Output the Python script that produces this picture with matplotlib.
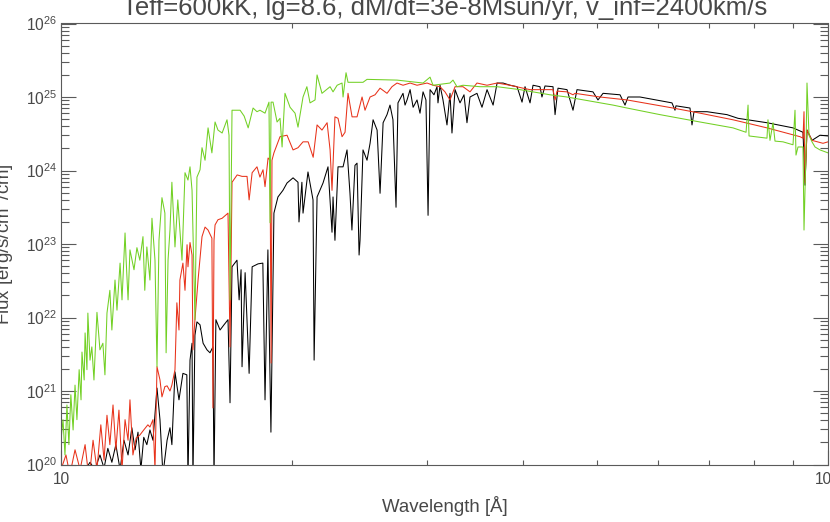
import numpy as np
import matplotlib
matplotlib.use('Agg')
import matplotlib.pyplot as plt
from matplotlib.ticker import FixedLocator, FixedFormatter, LogLocator, NullFormatter

plt.rcParams['font.family'] = ['Liberation Sans', 'DejaVu Sans']

title = 'Teff=600kK, lg=8.6, dM/dt=3e-8Msun/yr, v_inf=2400km/s'
xlabel = 'Wavelength [Å]'
ylabel = 'Flux [erg/s/cm$^2$/cm]'

# wavelength [A] and log10 flux
wl_black = [10.00, 10.27, 10.59, 10.91, 11.07, 11.24, 11.38, 11.51, 11.65, 11.79,
            11.94, 12.08, 12.23, 12.37, 12.49, 12.60, 12.71, 12.82, 12.94, 13.06,
            13.18, 13.34, 13.46, 13.58, 13.75, 13.87, 13.95, 14.08, 14.25, 14.42,
            14.59, 14.64, 14.73, 14.82, 14.86, 14.95, 15.04, 15.18, 15.32, 15.50,
            15.64, 15.78, 15.83, 15.92, 16.12, 16.31, 16.51, 16.61, 16.71, 16.96,
            17.07, 17.17, 17.22, 17.38, 17.59, 17.75, 18.07, 18.33, 18.45, 18.61,
            18.78, 18.95, 19.18, 19.47, 19.71, 20.07, 20.37, 20.43, 20.61, 20.68,
            20.99, 21.31, 21.38, 21.57, 21.96, 22.29, 22.56, 22.63, 22.76, 22.97,
            23.32, 23.60, 23.81, 23.95, 24.17, 24.32, 24.47, 24.54, 24.76, 25.06,
            25.29, 25.52, 25.83, 26.06, 26.30, 26.61, 26.85, 27.09, 27.34, 27.50,
            27.92, 28.09, 28.26, 28.52, 28.78, 29.12, 29.38, 29.65, 29.91, 30.10,
            30.28, 30.64, 30.92, 31.01, 31.20, 31.48, 31.86, 32.15, 32.34, 32.64,
            33.13, 33.53, 33.83, 34.14, 34.86, 35.39, 35.93, 36.59, 37.03, 37.70,
            38.50, 39.32, 39.91, 40.27, 40.88, 41.25, 42.12, 42.37, 42.76, 43.80,
            44.07, 44.46, 45.68, 46.51, 47.07, 49.38, 50.13, 50.90, 53.56, 54.37,
            54.86, 56.87, 62.60, 63.17, 63.36, 66.08, 66.48, 66.88, 69.54, 73.84,
            76.33, 83.26, 90.03, 92.77, 93.33, 93.89, 95.31, 97.63, 100.0]
logf_black = [19.86, 19.93, 19.82, 20.03, 19.93, 20.13, 19.95, 20.22, 20.03, 20.27,
              19.93, 20.33, 20.13, 20.50, 20.20, 20.44, 19.93, 20.37, 20.27, 20.47,
              20.33, 21.04, 20.61, 19.86, 20.33, 20.50, 20.27, 21.26, 20.88, 21.24,
              21.22, 19.79, 21.42, 21.65, 19.79, 21.76, 21.94, 21.90, 21.65, 21.56,
              21.52, 21.60, 19.79, 21.97, 21.83, 21.90, 21.97, 20.84, 22.69, 22.78,
              22.24, 22.65, 21.33, 22.61, 21.24, 22.69, 22.73, 22.74, 20.88, 22.92,
              20.44, 23.42, 23.64, 23.73, 23.83, 23.90, 23.84, 23.30, 23.84, 23.42,
              23.98, 23.60, 21.42, 23.64, 23.83, 24.05, 23.16, 23.64, 23.05, 24.05,
              24.05, 24.28, 23.69, 23.19, 24.07, 24.10, 22.85, 23.05, 24.28, 24.14,
              24.37, 24.69, 24.55, 23.69, 24.65, 24.76, 24.89, 24.69, 23.50, 24.92,
              25.05, 24.89, 24.96, 25.10, 24.86, 24.96, 24.78, 25.07, 24.96, 23.39,
              25.10, 25.03, 25.14, 24.92, 25.16, 24.96, 24.62, 25.05, 24.51, 25.10,
              24.92, 25.03, 24.65, 25.00, 25.05, 24.86, 25.10, 24.89, 25.19, 25.19,
              25.16, 25.14, 24.93, 25.14, 24.92, 25.16, 25.14, 25.00, 25.15, 25.14,
              24.76, 25.12, 25.10, 24.82, 25.10, 25.07, 24.96, 25.05, 25.03, 24.89,
              25.00, 25.00, 24.92, 24.82, 24.88, 24.85, 24.62, 24.80, 24.80, 24.76,
              24.71, 24.65, 24.58, 24.52, 23.80, 24.55, 24.41, 24.48, 24.47]

wl_red = [10.00, 10.15, 10.27, 10.43, 10.59, 10.75, 10.88, 11.01, 11.14, 11.27,
          11.38, 11.48, 11.58, 11.69, 11.79, 11.90, 12.01, 12.12, 12.23, 12.30,
          12.41, 12.53, 12.67, 12.82, 12.98, 13.06, 13.18, 13.26, 13.34, 13.46,
          13.54, 13.66, 13.75, 13.87, 13.95, 14.08, 14.16, 14.25, 14.29, 14.42,
          14.51, 14.60, 14.64, 14.73, 14.82, 14.86, 14.95, 15.09, 15.27, 15.41,
          15.55, 15.73, 15.78, 15.83, 15.88, 16.02, 16.22, 16.51, 16.61, 16.71,
          16.97, 17.22, 17.48, 17.59, 17.75, 18.01, 18.17, 18.34, 18.45, 18.62,
          18.73, 18.79, 18.84, 18.95, 19.30, 19.71, 20.07, 20.37, 20.68, 21.00,
          21.32, 21.57, 21.89, 22.23, 22.43, 22.56, 22.76, 22.97, 23.25, 23.46,
          23.67, 23.96, 24.32, 24.69, 24.91, 25.29, 25.67, 26.06, 26.61, 27.01,
          27.42, 27.92, 28.52, 29.12, 30.01, 30.55, 31.20, 31.67, 32.15, 32.64,
          33.43, 34.14, 34.86, 35.93, 37.03, 38.50, 40.03, 40.88, 43.80, 44.07,
          44.33, 45.68, 46.51, 46.79, 50.44, 54.70, 62.79, 68.10, 75.18, 83.26,
          91.94, 92.77, 93.05, 93.33, 93.89, 95.31, 98.51, 100.0]
logf_red = [19.93, 20.13, 19.86, 20.20, 19.93, 20.27, 19.79, 20.33, 19.93, 20.54,
            20.06, 20.67, 20.27, 20.81, 20.20, 20.74, 19.93, 20.61, 20.33, 20.88,
            20.13, 20.36, 20.40, 20.47, 20.54, 20.51, 20.61, 19.93, 21.33, 21.15,
            20.92, 21.06, 21.07, 21.00, 21.08, 21.29, 22.20, 21.83, 22.51, 22.74,
            22.37, 22.99, 22.69, 23.02, 22.85, 21.56, 21.97, 22.51, 23.10, 23.23,
            23.19, 23.08, 20.77, 23.05, 23.26, 23.33, 23.35, 23.42, 21.60, 23.84,
            23.94, 23.92, 23.92, 23.60, 23.97, 24.05, 23.91, 24.01, 23.78, 24.17,
            24.14, 21.38, 24.14, 24.24, 24.46, 24.48, 24.28, 24.31, 24.39, 24.39,
            24.18, 24.62, 24.55, 24.65, 24.28, 23.73, 24.73, 24.71, 24.46, 24.52,
            25.05, 24.73, 24.73, 25.00, 24.82, 25.00, 25.03, 25.12, 25.05, 25.14,
            25.19, 25.16, 25.19, 25.16, 25.19, 25.16, 25.14, 25.07, 24.96, 25.14,
            25.14, 25.07, 25.19, 25.16, 25.19, 25.16, 25.12, 25.10, 25.10, 24.96,
            25.08, 25.07, 25.03, 25.05, 25.00, 24.96, 24.85, 24.78, 24.69, 24.58,
            24.46, 24.44, 24.80, 23.83, 24.55, 24.41, 24.37, 24.39]

wl_green = [10.00, 10.06, 10.12, 10.18, 10.24, 10.30, 10.37, 10.43, 10.49, 10.56,
            10.62, 10.65, 10.72, 10.75, 10.81, 10.84, 10.91, 10.97, 11.04, 11.14,
            11.24, 11.34, 11.41, 11.48, 11.58, 11.65, 11.76, 11.83, 11.94, 12.01,
            12.12, 12.16, 12.23, 12.30, 12.45, 12.56, 12.67, 12.79, 12.86, 12.94,
            13.06, 13.14, 13.26, 13.34, 13.42, 13.54, 13.66, 13.71, 13.79, 13.87,
            13.95, 14.08, 14.20, 14.29, 14.38, 14.51, 14.64, 14.73, 14.82, 14.95,
            15.04, 15.18, 15.27, 15.41, 15.55, 15.73, 15.88, 16.02, 16.22, 16.46,
            16.56, 16.61, 16.71, 16.91, 17.12, 17.33, 17.54, 17.80, 18.01, 18.17,
            18.45, 18.67, 18.73, 18.79, 18.90, 19.13, 19.30, 19.42, 19.59, 19.89,
            20.19, 20.37, 20.68, 20.92, 21.12, 21.44, 21.57, 21.89, 22.43, 22.63,
            22.91, 23.25, 23.32, 23.53, 23.67, 24.76, 25.06, 27.42, 29.12, 29.65,
            30.28, 30.55, 32.15, 32.44, 32.83, 33.43, 35.18, 37.03, 39.67, 43.41,
            45.68, 50.44, 52.44, 54.70, 60.39, 64.13, 68.10, 75.18, 78.19, 78.66,
            78.89, 83.26, 83.51, 84.02, 84.78, 85.29, 87.36, 90.03, 90.57, 90.84,
            91.39, 92.77, 93.05, 93.61, 93.89, 94.46, 95.31, 96.18, 97.63, 100.0]
logf_green = [20.33, 20.61, 20.13, 20.81, 20.27, 20.95, 20.47, 21.08, 20.61, 21.29,
              20.88, 21.53, 21.15, 21.79, 21.29, 22.06, 21.42, 21.60, 21.15, 22.07,
              21.56, 21.65, 21.22, 22.06, 22.37, 21.83, 22.51, 22.10, 22.74, 22.24,
              23.15, 22.78, 22.24, 22.92, 22.65, 22.95, 22.78, 23.10, 22.37, 22.96,
              22.51, 23.35, 22.78, 21.33, 23.05, 23.63, 23.42, 21.52, 22.78, 23.19,
              23.84, 22.96, 23.60, 23.19, 22.78, 23.97, 23.87, 24.05, 23.73, 21.97,
              23.91, 24.01, 24.31, 24.14, 24.58, 24.24, 24.66, 24.55, 24.51, 24.69,
              24.48, 22.24, 24.82, 24.82, 24.82, 24.74, 24.58, 24.85, 24.80, 24.82,
              24.78, 24.93, 23.29, 24.93, 24.93, 24.66, 24.71, 24.32, 25.05, 24.86,
              24.78, 24.59, 25.00, 25.14, 24.92, 24.96, 25.30, 25.05, 25.14, 25.07,
              25.16, 25.19, 25.00, 25.33, 25.20, 25.20, 25.24, 25.23, 25.20, 25.19,
              25.27, 25.16, 25.19, 25.23, 25.14, 25.16, 25.14, 25.14, 25.10, 25.03,
              25.00, 24.92, 24.89, 24.85, 24.76, 24.71, 24.66, 24.58, 24.52, 24.89,
              24.47, 24.44, 24.69, 24.41, 24.65, 24.40, 24.39, 24.35, 24.82, 24.21,
              24.32, 24.32, 23.19, 24.28, 25.19, 24.48, 24.39, 24.32, 24.28, 24.24]

x_minor = [20, 30, 40, 50, 60, 70, 80, 90]

fig = plt.figure(figsize=(8.3, 5.22), dpi=100)
ax = fig.add_axes([61 / 830, 1 - 464.5 / 522, 767 / 830, 441 / 522])
ax.set_xscale('log')
ax.set_yscale('log')

ax.plot(wl_black, 10 ** np.array(logf_black), color='black', lw=0.75)
ax.plot(wl_red, 10 ** np.array(logf_red), color='#e8321a', lw=0.75)
ax.plot(wl_green, 10 ** np.array(logf_green), color='#72d024', lw=0.75)

ax.set_xlim(10, 100)
ax.set_ylim(1e20, 1e26)

ax.xaxis.set_major_locator(FixedLocator([10, 100]))
ax.xaxis.set_major_formatter(FixedFormatter(['10', '100']))
ax.xaxis.set_minor_locator(FixedLocator(x_minor))
ax.xaxis.set_minor_formatter(NullFormatter())
ax.yaxis.set_major_locator(LogLocator(base=10, numticks=10))
ax.yaxis.set_minor_locator(LogLocator(base=10, subs=np.arange(2, 10), numticks=100))
ax.yaxis.set_minor_formatter(NullFormatter())

axcol = '#5a5a5a'
txtcol = '#484848'
for s in ax.spines.values():
    s.set_color(axcol)
    s.set_linewidth(0.8)
ax.tick_params(which='both', direction='in', top=True, right=True,
               color=axcol, width=0.8, labelcolor=txtcol, labelsize=11.2)
ax.tick_params(axis='y', which='major', length=11, pad=3)
ax.tick_params(axis='y', which='minor', length=5.5)
ax.tick_params(axis='x', which='major', length=11, pad=5.5)
ax.tick_params(axis='x', which='minor', length=3.3)

fig.text(444.5 / 830, 1 - 15 / 522, title, ha='center', va='baseline',
         fontsize=18.5, color=txtcol)
fig.text(444.5 / 830, 1 - 512 / 522, xlabel, ha='center', va='baseline',
         fontsize=13.4, color=txtcol)
fig.text(10 / 830, 1 - 244 / 522, ylabel, ha='center', va='baseline',
         rotation=90, rotation_mode='anchor', fontsize=13.4, color=txtcol)

fig.savefig('out.png', dpi=100)
